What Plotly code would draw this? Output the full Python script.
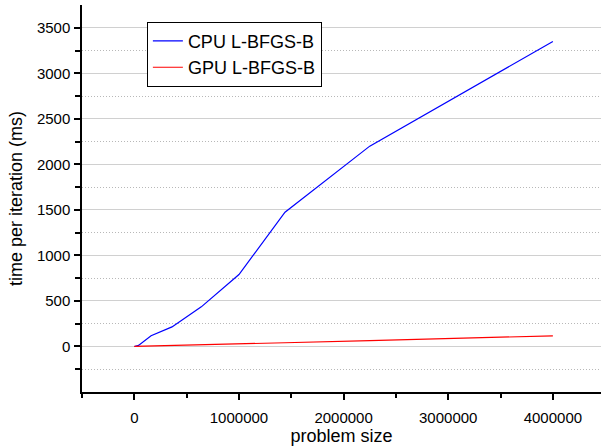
import plotly.graph_objects as go

problem_size = [0, 40000, 160000, 360000, 640000, 1000000, 1440000, 2250000, 4000000]
cpu_time = [0, 12, 117, 215, 435, 790, 1475, 2200, 3350]
gpu_time = [0, 1, 4, 10, 18, 28, 41, 64, 117]

x_ticks = [0, 1000000, 2000000, 3000000, 4000000]
x_tick_labels = ["0", "1000000", "2000000", "3000000", "4000000"]
x_minor = [-500000, 500000, 1500000, 2500000, 3500000]
y_ticks = [0, 500, 1000, 1500, 2000, 2500, 3000, 3500]
y_minor = [-250, 250, 750, 1250, 1750, 2250, 2750, 3250]

FONT = "Arial, Liberation Sans, sans-serif"

fig = go.Figure()
fig.add_trace(go.Scatter(x=problem_size, y=cpu_time, mode="lines", name="CPU L-BFGS-B",
                         line=dict(color="#0000ff", width=1.2)))
fig.add_trace(go.Scatter(x=problem_size, y=gpu_time, mode="lines", name="GPU L-BFGS-B",
                         line=dict(color="#ff0000", width=1.2)))

axis_common = dict(
    showline=True, linecolor="black", linewidth=1.5, mirror=False,
    ticks="outside", tickcolor="black", tickwidth=1.5, ticklen=6,
    zeroline=False, automargin=False,
    tickfont=dict(family=FONT, size=15, color="black"),
)

fig.update_layout(
    width=601, height=447,
    margin=dict(l=82, r=0, t=5, b=55),
    paper_bgcolor="white", plot_bgcolor="white",
    font=dict(family=FONT, color="black"),
    xaxis=dict(range=[-500000, 4460000], tickvals=x_ticks, ticktext=x_tick_labels,
               showgrid=False,
               minor=dict(tickvals=x_minor, ticks="outside",
                          ticklen=4, tickcolor="black", tickwidth=1.5, showgrid=False),
               title=dict(text="problem size", font=dict(size=18, family=FONT), standoff=4),
               ticklabelstandoff=5,
               **axis_common),
    yaxis=dict(range=[-500, 3750], tickvals=y_ticks,
               showgrid=True, gridcolor="#d0d0d0", gridwidth=1.2,
               minor=dict(tickvals=y_minor, ticks="outside",
                          ticklen=5, tickcolor="black", tickwidth=1.5,
                          showgrid=True, gridcolor="#b8b8b8", griddash="1px,2px", gridwidth=1),
               title=dict(text="time per iteration (ms)", font=dict(size=18, family=FONT), standoff=10),
               ticklabelstandoff=1,
               **axis_common),
    legend=dict(x=0.125, y=0.957, xanchor="left", yanchor="top",
                bgcolor="white", bordercolor="black", borderwidth=1,
                font=dict(size=18, family=FONT),
                tracegroupgap=0),
)

fig.write_html("out.html", config={"displayModeBar": False},
               post_script="document.body.style.margin='0px';document.body.style.overflow='hidden';")
